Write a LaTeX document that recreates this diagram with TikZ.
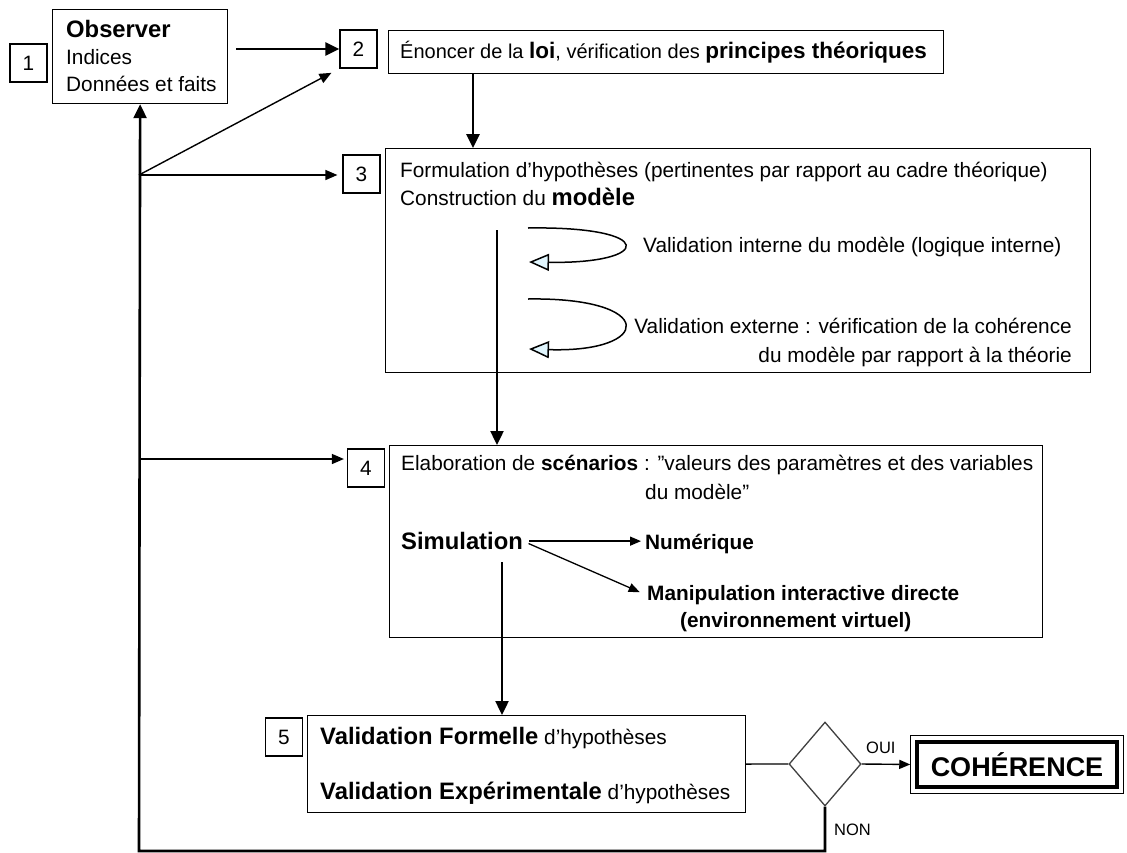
\documentclass[tikz,border=0pt]{standalone}
\usepackage{fontspec}
\setmainfont{Liberation Sans}
\usetikzlibrary{arrows.meta,shapes.geometric}

\newcommand{\txtsize}{\fontsize{20.8}{24}\selectfont}
\newcommand{\bigsize}{\fontsize{23.8}{27}\selectfont}
\newcommand{\smallsize}{\fontsize{16.5}{19}\selectfont}

\tikzset{
  numbox/.style={draw, line width=1.2pt, minimum width=37pt, minimum height=38pt, inner sep=0pt, font=\txtsize},
  mainbox/.style={draw, line width=1.2pt, anchor=north west, inner sep=0pt},
  txt/.style={anchor=mid west, inner sep=0pt, yshift=-5pt, font=\txtsize},
  rtxt/.style={anchor=mid east, inner sep=0pt, yshift=-5pt, font=\txtsize},
  flow/.style={-{Triangle[length=14pt,width=13pt]}, line width=2.6pt},
  thinflow/.style={-{Triangle[length=12pt,width=10pt]}, line width=1.4pt},
  loopflow/.style={-{Triangle[length=20pt,width=17pt,fill=cyan!12!white]}, line width=1.5pt},
}

\begin{document}
\begin{tikzpicture}[x=1pt,y=-1pt]
\useasboundingbox (0,0) rectangle (1127,852);

% numbers
\node[numbox] (n1) at (28.5,63) {1};
\node[numbox] (n2) at (358.5,49) {2};
\node[numbox] (n3) at (361.5,174) {3};
\node[numbox] (n4) at (366,468) {4};
\node[numbox] (n5) at (284,737) {5};

% boxes
\node[mainbox, minimum width=175pt, minimum height=94pt] (obs) at (52,9) {};
\node[mainbox, minimum width=555pt, minimum height=43pt] (b2) at (388,30) {};
\node[mainbox, minimum width=705pt, minimum height=224pt] (b3) at (385,148) {};
\node[mainbox, minimum width=653pt, minimum height=192pt] (b4) at (389,445) {};
\node[mainbox, minimum width=438pt, minimum height=97pt] (b5) at (307,715) {};
\node[draw=black!75, line width=1.3pt, diamond, minimum width=72pt, minimum height=84pt, inner sep=0pt] (dia) at (825,764) {};
\node[draw, line width=3.5pt, minimum width=200pt, minimum height=45pt, inner sep=0pt, font=\fontsize{27}{30}\selectfont\bfseries] (coh) at (1017,764.5) {COHÉRENCE};
\draw[line width=1pt] ([shift={(-5pt,-5pt)}]coh.south west) rectangle ([shift={(5pt,5pt)}]coh.north east);

% texts
\node[txt, font=\bigsize\bfseries] (tobs) at (66,30) {Observer};
\node[txt] (tind) at (66,57) {Indices};
\node[txt] (tdon) at (66,84) {Données et faits};
\node[txt, font=\fontsize{20}{24}\selectfont] (tloi) at (400,51) {Énoncer de la {\fontsize{22.5}{26}\selectfont\bfseries loi}, vérification des {\fontsize{22.5}{26}\selectfont\bfseries principes théoriques}};
\node[txt] (tform) at (400,170) {Formulation d’hypothèses (pertinentes par rapport au cadre théorique)};
\node[txt] (tcons) at (400,198) {Construction du {\bigsize\bfseries modèle}};
\node[txt] (tvi) at (643,245) {Validation interne du modèle (logique interne)};
\node[rtxt] (tve) at (1072,326) {Validation externe : vérification de la cohérence};
\node[rtxt] (tve2) at (1072,355) {du modèle par rapport à la théorie};
\node[txt] (tscen) at (401,463) {Elaboration de \textbf{scénarios} : \symbol{34}valeurs des paramètres et des variables};
\node[txt] (tscen2) at (645,492) {du modèle\symbol{34}};
\node[txt, font=\bigsize\bfseries] (sim) at (401,542) {Simulation};
\node[txt, font=\txtsize\bfseries] (num) at (645,542) {Numérique};
\node[txt, font=\txtsize\bfseries] (manip) at (647,593) {Manipulation interactive directe};
\node[txt, font=\txtsize\bfseries] (env) at (680,620) {(environnement virtuel)};
\node[txt] (vform) at (320,737) {{\bigsize\bfseries Validation Formelle} d'hypothèses};
\node[txt] (vexp) at (320,792) {{\bigsize\bfseries Validation Expérimentale} d'hypothèses};
\node[txt, font=\smallsize] (oui) at (866,746) {OUI};
\node[txt, font=\smallsize] (non) at (834,828) {NON};

% helper points
\coordinate (br) at (139,175);
\coordinate (c4) at (139,459);
\coordinate (bl) at (139,851);
\coordinate (la) at (497,230);
\coordinate (lb) at (502,562);
\coordinate (vi1) at (528,228);
\coordinate (vi2) at (529,262);
\coordinate (ve1) at (528,299);
\coordinate (ve2) at (529,349);

% connectors
\draw[flow, shorten <=8pt] (obs.east |- n2) -- (n2.west);
\draw[flow] (b2.south -| 473,0) -- (b3.north -| 473,0);
\draw[line width=2.4pt, -{Triangle[length=14pt,width=13pt]}] (la) -- (la |- b4.north);
\draw[line width=2.4pt, -{Triangle[length=14pt,width=13pt]}] (lb) -- (lb |- b5.north);
\draw[thinflow, shorten >=9pt] (br) -- (n2.south west);
\draw[thinflow, shorten >=5pt] (br) -- (br -| n3.west);
\draw[thinflow, shorten >=3pt] (c4) -- (c4 -| n4.west);
\draw[loopflow] (vi1) .. controls +(130,-2) and +(124,2) .. (vi2);
\draw[loopflow] (ve1) .. controls +(130,-2) and +(124,4) .. (ve2);
\draw[-{Triangle[length=11pt,width=9pt]}, line width=1.3pt, shorten <=6pt, shorten >=4pt] (sim.east) -- (sim.east -| num.west);
\draw[-{Triangle[length=11pt,width=9pt]}, line width=1.3pt, shorten <=6pt, shorten >=8pt] (sim.east) -- (manip.west);
\draw[line width=1.3pt] (b5.east) -- (dia.west);
\draw[-{Triangle[length=11pt,width=9pt]}, line width=1.4pt, shorten >=5pt] (dia.east) -- (coh.west);
\draw[flow] (dia.south) -- (dia.south |- bl) -- (bl) -- (obs.south);

\end{tikzpicture}
\end{document}
